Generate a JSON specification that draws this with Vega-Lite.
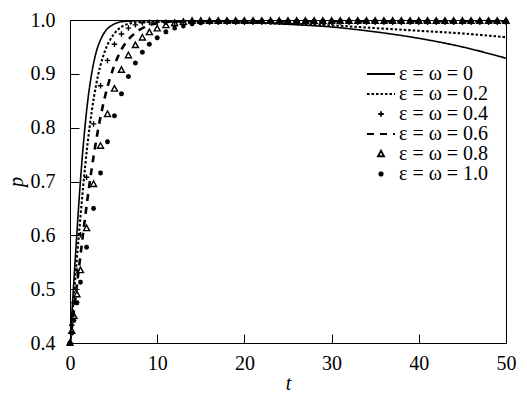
{
  "$schema": "https://vega.github.io/schema/vega-lite/v6.json",
  "width": 436,
  "height": 323,
  "autosize": {"type": "none"},
  "padding": {"left": 70, "top": 20, "right": 21, "bottom": 50},
  "background": "white",
  "datasets": {
    "lines": [
      {"s": "ε = ω = 0", "t": 0, "p": 0.4}, {"s": "ε = ω = 0", "t": 0.25, "p": 0.464}, {"s": "ε = ω = 0", "t": 0.5, "p": 0.53}, {"s": "ε = ω = 0", "t": 0.75, "p": 0.594}, {"s": "ε = ω = 0", "t": 1, "p": 0.656}, {"s": "ε = ω = 0", "t": 1.25, "p": 0.713}, {"s": "ε = ω = 0", "t": 1.5, "p": 0.763}, {"s": "ε = ω = 0", "t": 2, "p": 0.845}, {"s": "ε = ω = 0", "t": 2.5, "p": 0.902}, {"s": "ε = ω = 0", "t": 3, "p": 0.94}, {"s": "ε = ω = 0", "t": 3.5, "p": 0.963}, {"s": "ε = ω = 0", "t": 4, "p": 0.978}, {"s": "ε = ω = 0", "t": 5, "p": 0.992}, {"s": "ε = ω = 0", "t": 6, "p": 0.997}, {"s": "ε = ω = 0", "t": 7, "p": 0.998}, {"s": "ε = ω = 0", "t": 8, "p": 0.999}, {"s": "ε = ω = 0", "t": 10, "p": 0.999}, {"s": "ε = ω = 0", "t": 12, "p": 0.999}, {"s": "ε = ω = 0", "t": 15, "p": 0.998}, {"s": "ε = ω = 0", "t": 20, "p": 0.996}, {"s": "ε = ω = 0", "t": 25, "p": 0.992}, {"s": "ε = ω = 0", "t": 30, "p": 0.987}, {"s": "ε = ω = 0", "t": 35, "p": 0.978}, {"s": "ε = ω = 0", "t": 40, "p": 0.966}, {"s": "ε = ω = 0", "t": 45, "p": 0.95}, {"s": "ε = ω = 0", "t": 50, "p": 0.929},
      {"s": "ε = ω = 0.2", "t": 0, "p": 0.4}, {"s": "ε = ω = 0.2", "t": 0.25, "p": 0.449}, {"s": "ε = ω = 0.2", "t": 0.5, "p": 0.499}, {"s": "ε = ω = 0.2", "t": 0.75, "p": 0.549}, {"s": "ε = ω = 0.2", "t": 1, "p": 0.597}, {"s": "ε = ω = 0.2", "t": 1.25, "p": 0.644}, {"s": "ε = ω = 0.2", "t": 1.5, "p": 0.689}, {"s": "ε = ω = 0.2", "t": 2, "p": 0.768}, {"s": "ε = ω = 0.2", "t": 2.5, "p": 0.831}, {"s": "ε = ω = 0.2", "t": 3, "p": 0.88}, {"s": "ε = ω = 0.2", "t": 3.5, "p": 0.916}, {"s": "ε = ω = 0.2", "t": 4, "p": 0.942}, {"s": "ε = ω = 0.2", "t": 5, "p": 0.973}, {"s": "ε = ω = 0.2", "t": 6, "p": 0.988}, {"s": "ε = ω = 0.2", "t": 7, "p": 0.994}, {"s": "ε = ω = 0.2", "t": 8, "p": 0.996}, {"s": "ε = ω = 0.2", "t": 10, "p": 0.997}, {"s": "ε = ω = 0.2", "t": 12, "p": 0.997}, {"s": "ε = ω = 0.2", "t": 15, "p": 0.996}, {"s": "ε = ω = 0.2", "t": 20, "p": 0.995}, {"s": "ε = ω = 0.2", "t": 25, "p": 0.993}, {"s": "ε = ω = 0.2", "t": 30, "p": 0.99}, {"s": "ε = ω = 0.2", "t": 35, "p": 0.985}, {"s": "ε = ω = 0.2", "t": 40, "p": 0.98}, {"s": "ε = ω = 0.2", "t": 45, "p": 0.975}, {"s": "ε = ω = 0.2", "t": 50, "p": 0.968},
      {"s": "ε = ω = 0.6", "t": 0, "p": 0.4}, {"s": "ε = ω = 0.6", "t": 0.5, "p": 0.467}, {"s": "ε = ω = 0.6", "t": 1, "p": 0.536}, {"s": "ε = ω = 0.6", "t": 1.5, "p": 0.603}, {"s": "ε = ω = 0.6", "t": 2, "p": 0.667}, {"s": "ε = ω = 0.6", "t": 2.5, "p": 0.725}, {"s": "ε = ω = 0.6", "t": 3, "p": 0.776}, {"s": "ε = ω = 0.6", "t": 3.5, "p": 0.82}, {"s": "ε = ω = 0.6", "t": 4, "p": 0.857}, {"s": "ε = ω = 0.6", "t": 5, "p": 0.912}, {"s": "ε = ω = 0.6", "t": 6, "p": 0.948}, {"s": "ε = ω = 0.6", "t": 7, "p": 0.969}, {"s": "ε = ω = 0.6", "t": 8, "p": 0.982}, {"s": "ε = ω = 0.6", "t": 9, "p": 0.99}, {"s": "ε = ω = 0.6", "t": 10, "p": 0.994}, {"s": "ε = ω = 0.6", "t": 12, "p": 0.997}, {"s": "ε = ω = 0.6", "t": 15, "p": 0.998}, {"s": "ε = ω = 0.6", "t": 20, "p": 0.998}, {"s": "ε = ω = 0.6", "t": 25, "p": 0.998}, {"s": "ε = ω = 0.6", "t": 30, "p": 0.998}, {"s": "ε = ω = 0.6", "t": 35, "p": 0.998}, {"s": "ε = ω = 0.6", "t": 40, "p": 0.998}, {"s": "ε = ω = 0.6", "t": 45, "p": 0.998}, {"s": "ε = ω = 0.6", "t": 50, "p": 0.998}
    ],
    "marks": [
      {"s": "ε = ω = 0.4", "t": 0, "p": 0.4}, {"s": "ε = ω = 0.4", "t": 0.2, "p": 0.433}, {"s": "ε = ω = 0.4", "t": 0.45, "p": 0.475}, {"s": "ε = ω = 0.4", "t": 0.8, "p": 0.535}, {"s": "ε = ω = 0.4", "t": 1.2, "p": 0.601}, {"s": "ε = ω = 0.4", "t": 1.9, "p": 0.708}, {"s": "ε = ω = 0.4", "t": 2.7, "p": 0.807}, {"s": "ε = ω = 0.4", "t": 3.5, "p": 0.878}, {"s": "ε = ω = 0.4", "t": 4.3, "p": 0.925}, {"s": "ε = ω = 0.4", "t": 5.1, "p": 0.955}, {"s": "ε = ω = 0.4", "t": 5.9, "p": 0.974}, {"s": "ε = ω = 0.4", "t": 6.7, "p": 0.985}, {"s": "ε = ω = 0.4", "t": 7.5, "p": 0.991}, {"s": "ε = ω = 0.4", "t": 8.3, "p": 0.995}, {"s": "ε = ω = 0.4", "t": 9.1, "p": 0.996},
      {"s": "ε = ω = 0.4", "t": 10, "p": 0.996}, {"s": "ε = ω = 0.4", "t": 11, "p": 0.996}, {"s": "ε = ω = 0.4", "t": 12, "p": 0.996}, {"s": "ε = ω = 0.4", "t": 13, "p": 0.996}, {"s": "ε = ω = 0.4", "t": 14, "p": 0.996}, {"s": "ε = ω = 0.4", "t": 15, "p": 0.996}, {"s": "ε = ω = 0.4", "t": 16, "p": 0.996}, {"s": "ε = ω = 0.4", "t": 17, "p": 0.996}, {"s": "ε = ω = 0.4", "t": 18, "p": 0.996}, {"s": "ε = ω = 0.4", "t": 19, "p": 0.996}, {"s": "ε = ω = 0.4", "t": 20, "p": 0.996}, {"s": "ε = ω = 0.4", "t": 21, "p": 0.996}, {"s": "ε = ω = 0.4", "t": 22, "p": 0.996}, {"s": "ε = ω = 0.4", "t": 23, "p": 0.996}, {"s": "ε = ω = 0.4", "t": 24, "p": 0.996}, {"s": "ε = ω = 0.4", "t": 25, "p": 0.996}, {"s": "ε = ω = 0.4", "t": 26, "p": 0.996}, {"s": "ε = ω = 0.4", "t": 27, "p": 0.996}, {"s": "ε = ω = 0.4", "t": 28, "p": 0.996}, {"s": "ε = ω = 0.4", "t": 29, "p": 0.996}, {"s": "ε = ω = 0.4", "t": 30, "p": 0.996}, {"s": "ε = ω = 0.4", "t": 31, "p": 0.996}, {"s": "ε = ω = 0.4", "t": 32, "p": 0.996}, {"s": "ε = ω = 0.4", "t": 33, "p": 0.996}, {"s": "ε = ω = 0.4", "t": 34, "p": 0.996}, {"s": "ε = ω = 0.4", "t": 35, "p": 0.996}, {"s": "ε = ω = 0.4", "t": 36, "p": 0.996}, {"s": "ε = ω = 0.4", "t": 37, "p": 0.996}, {"s": "ε = ω = 0.4", "t": 38, "p": 0.996}, {"s": "ε = ω = 0.4", "t": 39, "p": 0.996}, {"s": "ε = ω = 0.4", "t": 40, "p": 0.996}, {"s": "ε = ω = 0.4", "t": 41, "p": 0.996}, {"s": "ε = ω = 0.4", "t": 42, "p": 0.996}, {"s": "ε = ω = 0.4", "t": 43, "p": 0.996}, {"s": "ε = ω = 0.4", "t": 44, "p": 0.996}, {"s": "ε = ω = 0.4", "t": 45, "p": 0.996}, {"s": "ε = ω = 0.4", "t": 46, "p": 0.996}, {"s": "ε = ω = 0.4", "t": 47, "p": 0.996}, {"s": "ε = ω = 0.4", "t": 48, "p": 0.996}, {"s": "ε = ω = 0.4", "t": 49, "p": 0.996}, {"s": "ε = ω = 0.4", "t": 50, "p": 0.996},
      {"s": "ε = ω = 0.8", "t": 0, "p": 0.4}, {"s": "ε = ω = 0.8", "t": 0.2, "p": 0.422}, {"s": "ε = ω = 0.8", "t": 0.45, "p": 0.45}, {"s": "ε = ω = 0.8", "t": 0.8, "p": 0.49}, {"s": "ε = ω = 0.8", "t": 1.2, "p": 0.535}, {"s": "ε = ω = 0.8", "t": 1.9, "p": 0.613}, {"s": "ε = ω = 0.8", "t": 2.7, "p": 0.695}, {"s": "ε = ω = 0.8", "t": 3.5, "p": 0.766}, {"s": "ε = ω = 0.8", "t": 4.3, "p": 0.825}, {"s": "ε = ω = 0.8", "t": 5.1, "p": 0.872}, {"s": "ε = ω = 0.8", "t": 5.9, "p": 0.907}, {"s": "ε = ω = 0.8", "t": 6.7, "p": 0.934}, {"s": "ε = ω = 0.8", "t": 7.5, "p": 0.953}, {"s": "ε = ω = 0.8", "t": 8.3, "p": 0.967}, {"s": "ε = ω = 0.8", "t": 9.1, "p": 0.977},
      {"s": "ε = ω = 0.8", "t": 10, "p": 0.984}, {"s": "ε = ω = 0.8", "t": 11, "p": 0.99}, {"s": "ε = ω = 0.8", "t": 12, "p": 0.994}, {"s": "ε = ω = 0.8", "t": 13, "p": 0.996}, {"s": "ε = ω = 0.8", "t": 14, "p": 0.998}, {"s": "ε = ω = 0.8", "t": 15, "p": 0.998}, {"s": "ε = ω = 0.8", "t": 16, "p": 0.998}, {"s": "ε = ω = 0.8", "t": 17, "p": 0.998}, {"s": "ε = ω = 0.8", "t": 18, "p": 0.998}, {"s": "ε = ω = 0.8", "t": 19, "p": 0.998}, {"s": "ε = ω = 0.8", "t": 20, "p": 0.998}, {"s": "ε = ω = 0.8", "t": 21, "p": 0.998}, {"s": "ε = ω = 0.8", "t": 22, "p": 0.998}, {"s": "ε = ω = 0.8", "t": 23, "p": 0.998}, {"s": "ε = ω = 0.8", "t": 24, "p": 0.998}, {"s": "ε = ω = 0.8", "t": 25, "p": 0.998}, {"s": "ε = ω = 0.8", "t": 26, "p": 0.998}, {"s": "ε = ω = 0.8", "t": 27, "p": 0.998}, {"s": "ε = ω = 0.8", "t": 28, "p": 0.998}, {"s": "ε = ω = 0.8", "t": 29, "p": 0.998}, {"s": "ε = ω = 0.8", "t": 30, "p": 0.998}, {"s": "ε = ω = 0.8", "t": 31, "p": 0.998}, {"s": "ε = ω = 0.8", "t": 32, "p": 0.998}, {"s": "ε = ω = 0.8", "t": 33, "p": 0.998}, {"s": "ε = ω = 0.8", "t": 34, "p": 0.998}, {"s": "ε = ω = 0.8", "t": 35, "p": 0.998}, {"s": "ε = ω = 0.8", "t": 36, "p": 0.998}, {"s": "ε = ω = 0.8", "t": 37, "p": 0.998}, {"s": "ε = ω = 0.8", "t": 38, "p": 0.998}, {"s": "ε = ω = 0.8", "t": 39, "p": 0.998}, {"s": "ε = ω = 0.8", "t": 40, "p": 0.998}, {"s": "ε = ω = 0.8", "t": 41, "p": 0.998}, {"s": "ε = ω = 0.8", "t": 42, "p": 0.998}, {"s": "ε = ω = 0.8", "t": 43, "p": 0.998}, {"s": "ε = ω = 0.8", "t": 44, "p": 0.998}, {"s": "ε = ω = 0.8", "t": 45, "p": 0.998}, {"s": "ε = ω = 0.8", "t": 46, "p": 0.998}, {"s": "ε = ω = 0.8", "t": 47, "p": 0.998}, {"s": "ε = ω = 0.8", "t": 48, "p": 0.998}, {"s": "ε = ω = 0.8", "t": 49, "p": 0.998}, {"s": "ε = ω = 0.8", "t": 50, "p": 0.998},
      {"s": "ε = ω = 1.0", "t": 0, "p": 0.4}, {"s": "ε = ω = 1.0", "t": 0.2, "p": 0.418}, {"s": "ε = ω = 1.0", "t": 0.45, "p": 0.442}, {"s": "ε = ω = 1.0", "t": 0.8, "p": 0.475}, {"s": "ε = ω = 1.0", "t": 1.2, "p": 0.513}, {"s": "ε = ω = 1.0", "t": 1.9, "p": 0.578}, {"s": "ε = ω = 1.0", "t": 2.7, "p": 0.65}, {"s": "ε = ω = 1.0", "t": 3.5, "p": 0.716}, {"s": "ε = ω = 1.0", "t": 4.3, "p": 0.774}, {"s": "ε = ω = 1.0", "t": 5.1, "p": 0.822}, {"s": "ε = ω = 1.0", "t": 5.9, "p": 0.863}, {"s": "ε = ω = 1.0", "t": 6.7, "p": 0.895}, {"s": "ε = ω = 1.0", "t": 7.5, "p": 0.92}, {"s": "ε = ω = 1.0", "t": 8.3, "p": 0.94}, {"s": "ε = ω = 1.0", "t": 9.1, "p": 0.955},
      {"s": "ε = ω = 1.0", "t": 10, "p": 0.967}, {"s": "ε = ω = 1.0", "t": 11, "p": 0.978}, {"s": "ε = ω = 1.0", "t": 12, "p": 0.985}, {"s": "ε = ω = 1.0", "t": 13, "p": 0.989}, {"s": "ε = ω = 1.0", "t": 14, "p": 0.993}, {"s": "ε = ω = 1.0", "t": 15, "p": 0.995}, {"s": "ε = ω = 1.0", "t": 16, "p": 0.997}, {"s": "ε = ω = 1.0", "t": 17, "p": 0.998}, {"s": "ε = ω = 1.0", "t": 18, "p": 0.998}, {"s": "ε = ω = 1.0", "t": 19, "p": 0.998}, {"s": "ε = ω = 1.0", "t": 20, "p": 0.998}, {"s": "ε = ω = 1.0", "t": 21, "p": 0.998}, {"s": "ε = ω = 1.0", "t": 22, "p": 0.998}, {"s": "ε = ω = 1.0", "t": 23, "p": 0.998}, {"s": "ε = ω = 1.0", "t": 24, "p": 0.998}, {"s": "ε = ω = 1.0", "t": 25, "p": 0.998}, {"s": "ε = ω = 1.0", "t": 26, "p": 0.998}, {"s": "ε = ω = 1.0", "t": 27, "p": 0.998}, {"s": "ε = ω = 1.0", "t": 28, "p": 0.998}, {"s": "ε = ω = 1.0", "t": 29, "p": 0.998}, {"s": "ε = ω = 1.0", "t": 30, "p": 0.998}, {"s": "ε = ω = 1.0", "t": 31, "p": 0.998}, {"s": "ε = ω = 1.0", "t": 32, "p": 0.998}, {"s": "ε = ω = 1.0", "t": 33, "p": 0.998}, {"s": "ε = ω = 1.0", "t": 34, "p": 0.998}, {"s": "ε = ω = 1.0", "t": 35, "p": 0.998}, {"s": "ε = ω = 1.0", "t": 36, "p": 0.998}, {"s": "ε = ω = 1.0", "t": 37, "p": 0.998}, {"s": "ε = ω = 1.0", "t": 38, "p": 0.998}, {"s": "ε = ω = 1.0", "t": 39, "p": 0.998}, {"s": "ε = ω = 1.0", "t": 40, "p": 0.998}, {"s": "ε = ω = 1.0", "t": 41, "p": 0.998}, {"s": "ε = ω = 1.0", "t": 42, "p": 0.998}, {"s": "ε = ω = 1.0", "t": 43, "p": 0.998}, {"s": "ε = ω = 1.0", "t": 44, "p": 0.998}, {"s": "ε = ω = 1.0", "t": 45, "p": 0.998}, {"s": "ε = ω = 1.0", "t": 46, "p": 0.998}, {"s": "ε = ω = 1.0", "t": 47, "p": 0.998}, {"s": "ε = ω = 1.0", "t": 48, "p": 0.998}, {"s": "ε = ω = 1.0", "t": 49, "p": 0.998}, {"s": "ε = ω = 1.0", "t": 50, "p": 0.998}
    ]
  },
  "encoding": {
    "x": {"field": "t", "type": "quantitative", "scale": {"domain": [0, 50], "nice": false}, "axis": {"title": "t", "values": [0, 10, 20, 30, 40, 50], "tickSize": -9, "labelPadding": 19, "titlePadding": 0}},
    "y": {"field": "p", "type": "quantitative", "scale": {"domain": [0.4, 1.0], "nice": false, "zero": false}, "axis": {"title": "p", "values": [0.4, 0.5, 0.6, 0.7, 0.8, 0.9, 1.0], "format": ".1f", "tickSize": -9, "labelPadding": 24, "titlePadding": 4}}
  },
  "layer": [
    {
      "data": {"name": "lines"},
      "mark": {"type": "line", "interpolate": "monotone", "color": "black", "clip": true},
      "encoding": {
        "detail": {"field": "s"},
        "strokeDash": {
          "field": "s", "type": "nominal",
          "scale": {
            "domain": ["ε = ω = 0", "ε = ω = 0.2", "ε = ω = 0.4", "ε = ω = 0.6", "ε = ω = 0.8", "ε = ω = 1.0"],
            "range": [[1, 0], [2.5, 2], [1, 0], [7, 6], [1, 0], [1, 0]]
          },
          "legend": {"title": null}
        },
        "size": {"field": "s", "type": "ordinal", "scale": {"domain": ["ε = ω = 0", "ε = ω = 0.2", "ε = ω = 0.6"], "range": [1.6, 2.6, 1.8]}, "legend": null}
      }
    },
    {
      "data": {"name": "marks"},
      "mark": {"type": "point", "filled": false, "color": "black", "size": 100, "strokeWidth": 1.4, "opacity": 1},
      "encoding": {
        "shape": {
          "field": "s", "type": "nominal",
          "scale": {
            "domain": ["ε = ω = 0", "ε = ω = 0.2", "ε = ω = 0.4", "ε = ω = 0.6", "ε = ω = 0.8", "ε = ω = 1.0"],
            "range": ["M-2.8,0H2.8", "M-2.8,0H2.8", "M-0.55,0H0.55M0,-0.55V0.55", "M-2.8,0H2.8", "M0,-0.65L0.6,0.45H-0.6Z", "M-0.5,0H0.5M0,-0.5V0.5M-0.36,-0.36L0.36,0.36M-0.36,0.36L0.36,-0.36"]
          },
          "legend": {"title": null}
        }
      }
    }
  ],
  "config": {
    "view": {"stroke": "black", "strokeWidth": 1},
    "legend": {
      "orient": "none",
      "legendX": 301,
      "legendY": 44,
      "labelFont": "Liberation Serif",
      "labelFontSize": 20,
      "labelColor": "black",
      "labelOffset": 8,
      "labelLimit": 300,
      "rowPadding": -2,
      "symbolSize": 100,
      "symbolStrokeColor": "black",
      "symbolFillColor": "transparent",
      "symbolStrokeWidth": 1.8
    },
    "axis": {
      "grid": false,
      "labelFont": "Liberation Serif", "labelFontSize": 20, "labelColor": "black",
      "labelFlush": false, "labelOverlap": false, "labelBound": false,
      "domainColor": "black", "domainWidth": 1, "tickColor": "black", "tickWidth": 1,
      "titleFont": "Liberation Serif", "titleFontSize": 20, "titleFontStyle": "italic", "titleFontWeight": "normal", "titleColor": "black"
    }
  }
}
